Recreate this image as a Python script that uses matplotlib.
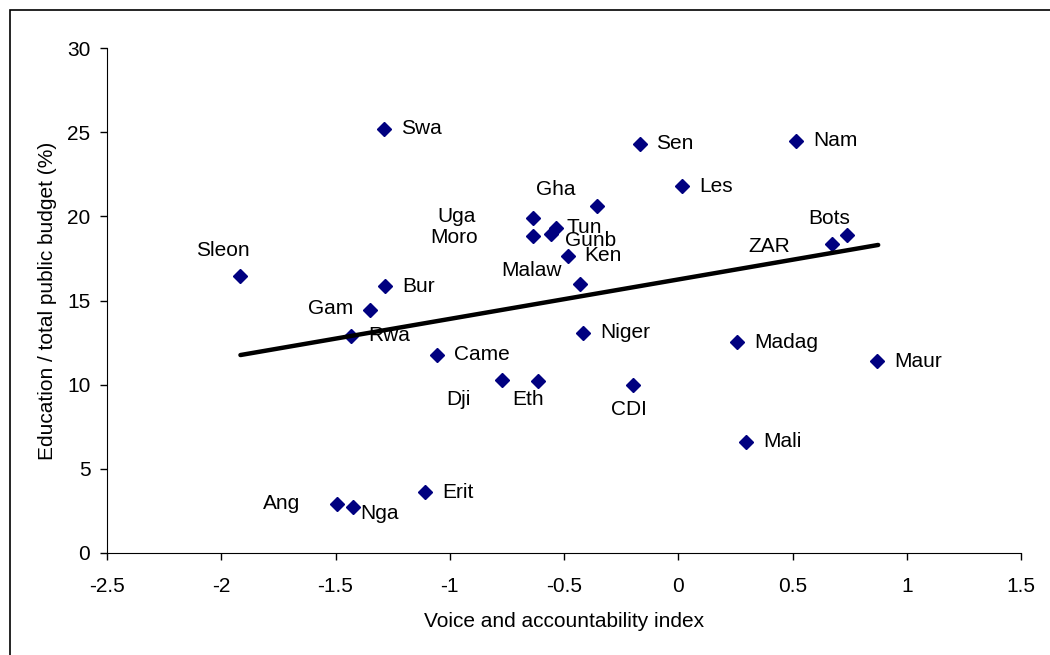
import numpy as np
import matplotlib.pyplot as plt
from matplotlib.patches import Rectangle

plt.rcParams['font.family'] = ['Liberation Sans', 'DejaVu Sans']

# --- data ---
countries = ["Sleon", "Swa", "Bur", "Gam", "Rwa", "Came", "Ang", "Nga", "Erit",
             "Dji", "Eth", "CDI", "Uga", "Moro", "Tun", "Gunb", "Gha", "Ken",
             "Malaw", "Niger", "Sen", "Les", "Nam", "Bots", "ZAR", "Madag",
             "Maur", "Mali"]
voice = [-1.916, -1.286, -1.282, -1.347, -1.430, -1.054, -1.492, -1.422, -1.107,
         -0.770, -0.612, -0.197, -0.634, -0.634, -0.534, -0.556, -0.354, -0.481,
         -0.429, -0.416, -0.166, 0.017, 0.516, 0.739, 0.674, 0.258,
         0.871, 0.297]
edu_share = [16.46, 25.19, 15.86, 14.44, 12.89, 11.76, 2.91, 2.73, 3.62,
             10.28, 10.22, 9.98, 19.90, 18.84, 19.31, 18.95, 20.60, 17.65,
             15.98, 13.07, 24.30, 21.80, 24.48, 18.90, 18.36, 12.54,
             11.41, 6.60]

# label anchor positions (data coords) and alignment
label_x = [-1.995, -1.212, -1.208, -1.520, -1.356, -0.980, -1.735, -1.390, -1.033,
           -0.962, -0.656, -0.215, -0.970, -0.980, -0.491, -0.495, -0.534, -0.411,
           -0.643, -0.341, -0.096, 0.092, 0.590, 0.662, 0.398, 0.332,
           0.945, 0.372]
label_y = [18.0, 25.2, 15.85, 14.5, 12.95, 11.8, 2.95, 2.35, 3.6,
           9.1, 9.1, 8.5, 20.0, 18.75, 19.35, 18.55, 21.6, 17.65,
           16.8, 13.1, 24.3, 21.8, 24.5, 19.85, 18.2, 12.5,
           11.4, 6.6]
label_ha = ["center", "left", "left", "center", "left", "left", "center", "left", "left",
            "center", "center", "center", "center", "center", "left", "left", "center", "left",
            "center", "left", "left", "left", "left", "center", "center", "left",
            "left", "left"]

# linear trend line end points
trend_x = [-1.916, 0.875]
trend_y = [11.76, 18.30]

fig = plt.figure(figsize=(10.5, 6.55), dpi=100)
ax = fig.add_axes([107/1050, 1 - 553/655, (1021-107)/1050, (553-48)/655])

ax.plot(voice, edu_share, linestyle="none", marker="D", ms=7.2,
        color="#000080", zorder=3)
ax.plot(trend_x, trend_y, color="black", lw=3.2, solid_capstyle="round", zorder=4)

for name, lx, ly, ha in zip(countries, label_x, label_y, label_ha):
    ax.text(lx, ly, name, ha=ha, va="center", fontsize=15, zorder=5)

ax.set_xlim(-2.5, 1.5)
ax.set_ylim(0, 30)
ax.set_xticks(np.arange(-2.5, 1.51, 0.5))
ax.set_xticklabels(["-2.5", "-2", "-1.5", "-1", "-0.5", "0", "0.5", "1", "1.5"])
ax.set_yticks(range(0, 31, 5))
ax.tick_params(direction="out", length=5, width=1, labelsize=15)
ax.tick_params(axis="x", pad=12)
ax.tick_params(axis="y", pad=7)
ax.spines["top"].set_visible(False)
ax.spines["right"].set_visible(False)
ax.set_xlabel("Voice and accountability index", fontsize=15, labelpad=12)
ax.set_ylabel("Education / total public budget (%)", fontsize=15, labelpad=7)

# outer chart border (runs off the right and bottom edges)
fig.patches.append(Rectangle((9.5/1050, -20/655), 1100/1050, 665/655,
                             transform=fig.transFigure, fill=False,
                             edgecolor="black", lw=1.2))

fig.savefig("out.png", dpi=100)
